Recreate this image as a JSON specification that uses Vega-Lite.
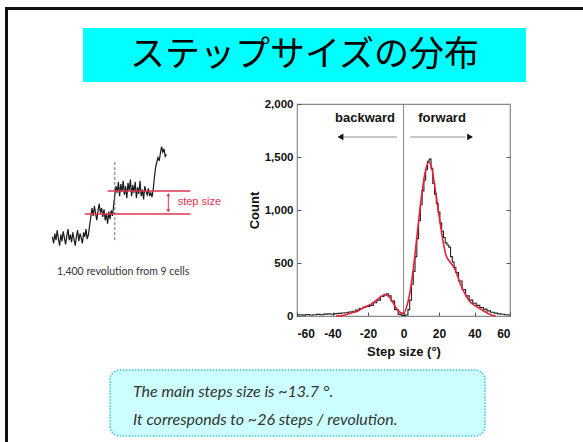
{
  "$schema": "https://vega.github.io/schema/vega-lite/v6.json",
  "width": 213,
  "height": 212,
  "autosize": {"type": "none"},
  "padding": {"left": 297, "top": 104, "right": 73, "bottom": 126},
  "background": "white",
  "config": {"view": {"stroke": "#8a8a8a", "strokeWidth": 1.2}, "font": "Liberation Sans"},
  "resolve": {"scale": {"x": "independent", "y": "independent", "shape": "independent"}},
  "layer": [
    {
      "data": {"values": [{"part": "slide"}]},
      "mark": {"type": "rect", "fill": "white", "fillOpacity": 0, "stroke": "#111111", "strokeWidth": 3},
      "encoding": {
        "x": {"datum": 0, "type": "quantitative", "scale": {"domain": [0, 1], "range": [-290.5, 310]}, "axis": null},
        "x2": {"datum": 1},
        "y": {"datum": 0, "type": "quantitative", "scale": {"domain": [0, 1], "range": [-95.5, 360]}, "axis": null},
        "y2": {"datum": 1}
      }
    },
    {
      "data": {"values": [{"title": "ステップサイズの分布"}]},
      "layer": [
        {
          "mark": {"type": "rect", "fill": "#00ffff"},
          "encoding": {
            "x": {"datum": 0, "type": "quantitative", "scale": {"domain": [0, 1], "range": [-214, 229]}, "axis": null},
            "x2": {"datum": 1},
            "y": {"datum": 0, "type": "quantitative", "scale": {"domain": [0, 1], "range": [-76, -22]}, "axis": null},
            "y2": {"datum": 1}
          }
        },
        {
          "mark": {"type": "text", "font": "Noto Sans CJK JP", "fontSize": 35, "color": "#000000", "align": "center", "baseline": "middle"},
          "encoding": {
            "x": {"datum": 0.5, "type": "quantitative", "scale": {"domain": [0, 1], "range": [-214, 229]}, "axis": null},
            "y": {"datum": 0.5, "type": "quantitative", "scale": {"domain": [0, 1], "range": [-76, -22]}, "axis": null},
            "text": {"field": "title"}
          }
        }
      ]
    },
    {
      "encoding": {
        "x": {"field": "t", "type": "quantitative", "scale": {"domain": [0, 100], "range": [-247, -127], "zero": false, "nice": false}, "axis": null},
        "y": {"field": "pos", "type": "quantitative", "scale": {"domain": [0, 100], "range": [146, 36], "zero": false, "nice": false}, "axis": null}
      },
      "layer": [
        {
          "data": {"values": [
            {"t": 2, "pos": 12}, {"t": 3, "pos": 6}, {"t": 4, "pos": 15}, {"t": 5, "pos": 9}, {"t": 6, "pos": 18},
            {"t": 7, "pos": 10}, {"t": 8, "pos": 4}, {"t": 9, "pos": 14}, {"t": 10, "pos": 8}, {"t": 11, "pos": 17},
            {"t": 12, "pos": 11}, {"t": 13, "pos": 5}, {"t": 14, "pos": 13}, {"t": 15, "pos": 19}, {"t": 16, "pos": 9},
            {"t": 17, "pos": 14}, {"t": 18, "pos": 7}, {"t": 19, "pos": 16}, {"t": 20, "pos": 10}, {"t": 21, "pos": 4},
            {"t": 22, "pos": 12}, {"t": 23, "pos": 18}, {"t": 24, "pos": 8}, {"t": 25, "pos": 15}, {"t": 26, "pos": 11},
            {"t": 27, "pos": 6}, {"t": 28, "pos": 16}, {"t": 29, "pos": 12}, {"t": 30, "pos": 19}, {"t": 31, "pos": 10},
            {"t": 32, "pos": 14}, {"t": 33, "pos": 22}, {"t": 34, "pos": 30}, {"t": 35, "pos": 38}, {"t": 36, "pos": 31},
            {"t": 37, "pos": 40}, {"t": 38, "pos": 33}, {"t": 39, "pos": 27}, {"t": 40, "pos": 36}, {"t": 41, "pos": 42},
            {"t": 42, "pos": 34}, {"t": 43, "pos": 38}, {"t": 44, "pos": 30}, {"t": 45, "pos": 37}, {"t": 46, "pos": 27},
            {"t": 47, "pos": 33}, {"t": 48, "pos": 24}, {"t": 49, "pos": 35}, {"t": 50, "pos": 28}, {"t": 51, "pos": 36},
            {"t": 52, "pos": 31}, {"t": 53, "pos": 40}, {"t": 54, "pos": 50}, {"t": 55, "pos": 58}, {"t": 56, "pos": 52},
            {"t": 57, "pos": 62}, {"t": 58, "pos": 49}, {"t": 59, "pos": 60}, {"t": 60, "pos": 53}, {"t": 61, "pos": 63},
            {"t": 62, "pos": 50}, {"t": 63, "pos": 58}, {"t": 64, "pos": 47}, {"t": 65, "pos": 61}, {"t": 66, "pos": 54},
            {"t": 67, "pos": 64}, {"t": 68, "pos": 49}, {"t": 69, "pos": 59}, {"t": 70, "pos": 52}, {"t": 71, "pos": 62},
            {"t": 72, "pos": 47}, {"t": 73, "pos": 57}, {"t": 74, "pos": 51}, {"t": 75, "pos": 63}, {"t": 76, "pos": 49},
            {"t": 77, "pos": 55}, {"t": 78, "pos": 46}, {"t": 79, "pos": 58}, {"t": 80, "pos": 53}, {"t": 81, "pos": 50},
            {"t": 82, "pos": 56}, {"t": 83, "pos": 49}, {"t": 84, "pos": 52}, {"t": 85, "pos": 48}, {"t": 86, "pos": 55},
            {"t": 87, "pos": 66}, {"t": 88, "pos": 75}, {"t": 89, "pos": 80}, {"t": 90, "pos": 84}, {"t": 91, "pos": 81},
            {"t": 92, "pos": 88}, {"t": 93, "pos": 94}, {"t": 94, "pos": 89}, {"t": 95, "pos": 92}, {"t": 96, "pos": 85},
            {"t": 97, "pos": 87}
          ]},
          "mark": {"type": "line", "color": "#1a1a1a", "strokeWidth": 1.2}
        },
        {
          "data": {"values": [{"t": 48, "t2": 117, "pos": 53.6}, {"t": 29, "t2": 117, "pos": 32.7}]},
          "mark": {"type": "rule", "color": "#e3334f", "strokeWidth": 1.5},
          "encoding": {"x2": {"field": "t2"}}
        },
        {
          "data": {"values": [{"t": 54, "pos": 9, "pos2": 80}]},
          "mark": {"type": "rule", "color": "#5a6a9a", "strokeDash": [3, 2], "strokeWidth": 1},
          "encoding": {"y2": {"field": "pos2"}}
        },
        {
          "data": {"values": [{"t": 98.6, "pos": 35.5, "pos2": 50.5}]},
          "mark": {"type": "rule", "color": "#e3334f", "strokeWidth": 1},
          "encoding": {"y2": {"field": "pos2"}}
        },
        {
          "data": {"values": [{"t": 98.6, "pos": 50.3}]},
          "mark": {"type": "point", "shape": "triangle-up", "filled": true, "color": "#e3334f", "size": 14, "opacity": 1}
        },
        {
          "data": {"values": [{"t": 98.6, "pos": 35.7}]},
          "mark": {"type": "point", "shape": "triangle-down", "filled": true, "color": "#e3334f", "size": 14, "opacity": 1}
        },
        {
          "data": {"values": [{"t": 106.4, "pos": 43.9, "label": "step size"}]},
          "mark": {"type": "text", "align": "left", "baseline": "middle", "font": "Liberation Sans", "fontSize": 11, "color": "#e3334f"},
          "encoding": {"text": {"field": "label"}}
        },
        {
          "data": {"values": [{"t": 5.8, "pos": -20, "label": "1,400 revolution from 9 cells"}]},
          "mark": {"type": "text", "align": "left", "baseline": "middle", "font": "Lato", "fontSize": 10.5, "color": "#333333"},
          "encoding": {"text": {"field": "label"}}
        }
      ]
    },
    {
      "data": {"values": [{"part": "note"}]},
      "mark": {"type": "rect", "fill": "#ccffff", "stroke": "#3cc8d0", "strokeWidth": 1.5, "strokeDash": [1.5, 1.5], "cornerRadius": 10},
      "encoding": {
        "x": {"datum": 0, "type": "quantitative", "scale": {"domain": [0, 1], "range": [-187, 188]}, "axis": null},
        "x2": {"datum": 1},
        "y": {"datum": 0, "type": "quantitative", "scale": {"domain": [0, 1], "range": [266, 332]}, "axis": null},
        "y2": {"datum": 1}
      }
    },
    {
      "data": {"values": [
        {"line": 1, "text": "The main steps size is ~13.7 °."},
        {"line": 2, "text": "It corresponds to ~26 steps / revolution."}
      ]},
      "mark": {"type": "text", "align": "left", "baseline": "middle", "font": "Lato", "fontStyle": "italic", "fontSize": 16, "color": "#333333", "dx": 23},
      "encoding": {
        "x": {"datum": 0, "type": "quantitative", "scale": {"domain": [0, 1], "range": [-187, 188]}, "axis": null},
        "y": {"field": "line", "type": "quantitative", "scale": {"domain": [1, 2], "range": [288, 316]}, "axis": null},
        "text": {"field": "text"}
      }
    },
    {
      "data": {"values": [{"x": 0, "count": 0, "count2": 2000}]},
      "mark": {"type": "rule", "color": "#8a8a8a", "strokeWidth": 1},
      "encoding": {
        "x": {"field": "x", "type": "quantitative", "scale": {"domain": [-60, 60], "nice": false, "zero": false}, "axis": null},
        "y": {"field": "count", "type": "quantitative", "scale": {"domain": [0, 2000], "nice": false},
          "axis": {"orient": "right", "values": [500, 1000, 1500], "labels": false, "title": null, "tickSize": -4, "tickColor": "#555555", "domain": false, "grid": false}},
        "y2": {"field": "count2"}
      }
    },
    {
      "encoding": {
        "x": {"field": "x", "type": "quantitative", "scale": {"domain": [-60, 60], "nice": false, "zero": false},
          "axis": {"values": [-60, -40, -20, 0, 20, 40, 60], "labelExpr": "datum.value < 0 ? '-' + abs(datum.value) : '' + datum.value",
            "title": "Step size (°)", "titleFont": "Liberation Sans", "titleFontWeight": "bold", "titleFontSize": 13, "titleColor": "#111111", "titlePadding": 6,
            "labelFont": "Liberation Sans", "labelFontWeight": "bold", "labelFontSize": 12, "labelColor": "#111111", "labelPadding": 16,
            "tickSize": -4, "tickColor": "#555555", "domain": false, "grid": false}},
        "y": {"field": "count", "type": "quantitative", "scale": {"domain": [0, 2000], "nice": false},
          "axis": {"values": [0, 500, 1000, 1500, 2000], "format": ",.0f", "orient": "left",
            "title": "Count", "titleFont": "Liberation Sans", "titleFontWeight": "bold", "titleFontSize": 13, "titleColor": "#111111", "titlePadding": 3,
            "labelFont": "Liberation Sans", "labelFontWeight": "bold", "labelFontSize": 11.5, "labelColor": "#111111", "labelPadding": 8,
            "tickSize": -4, "tickColor": "#555555", "domain": false, "grid": false}}
      },
      "layer": [
        {
          "data": {"values": [
            {"x": -60, "count": 10}, {"x": -58, "count": 12}, {"x": -56, "count": 8}, {"x": -54, "count": 14},
            {"x": -52, "count": 10}, {"x": -50, "count": 12}, {"x": -48, "count": 15}, {"x": -46, "count": 12},
            {"x": -44, "count": 18}, {"x": -42, "count": 20}, {"x": -40, "count": 16}, {"x": -38, "count": 22},
            {"x": -36, "count": 25}, {"x": -34, "count": 28}, {"x": -32, "count": 30}, {"x": -30, "count": 38},
            {"x": -28, "count": 45}, {"x": -26, "count": 55}, {"x": -24, "count": 70}, {"x": -22, "count": 82},
            {"x": -20, "count": 90}, {"x": -18, "count": 100}, {"x": -16, "count": 125}, {"x": -14, "count": 150},
            {"x": -12, "count": 185}, {"x": -10, "count": 205}, {"x": -9, "count": 210}, {"x": -8, "count": 190},
            {"x": -6, "count": 140}, {"x": -4, "count": 60}, {"x": -2, "count": 15}, {"x": 0, "count": 5},
            {"x": 2, "count": 10}, {"x": 3, "count": 60}, {"x": 4, "count": 150}, {"x": 5, "count": 300},
            {"x": 6, "count": 420}, {"x": 7, "count": 560}, {"x": 8, "count": 730}, {"x": 9, "count": 900},
            {"x": 10, "count": 1050}, {"x": 11, "count": 1180}, {"x": 12, "count": 1280}, {"x": 13, "count": 1380},
            {"x": 14, "count": 1460}, {"x": 15, "count": 1480}, {"x": 16, "count": 1390}, {"x": 17, "count": 1250},
            {"x": 18, "count": 1150}, {"x": 19, "count": 1060}, {"x": 20, "count": 980}, {"x": 21, "count": 880},
            {"x": 22, "count": 800}, {"x": 23, "count": 740}, {"x": 24, "count": 690}, {"x": 25, "count": 670},
            {"x": 26, "count": 650}, {"x": 27, "count": 560}, {"x": 28, "count": 510}, {"x": 29, "count": 460},
            {"x": 30, "count": 410}, {"x": 32, "count": 330}, {"x": 34, "count": 250}, {"x": 36, "count": 190},
            {"x": 38, "count": 150}, {"x": 40, "count": 120}, {"x": 42, "count": 100}, {"x": 44, "count": 80},
            {"x": 46, "count": 65}, {"x": 48, "count": 48}, {"x": 50, "count": 35}, {"x": 52, "count": 27},
            {"x": 54, "count": 20}, {"x": 56, "count": 16}, {"x": 58, "count": 12}, {"x": 60, "count": 10}
          ]},
          "mark": {"type": "line", "interpolate": "step", "color": "#222222", "strokeWidth": 1.1}
        },
        {
          "data": {"values": [
            {"x": -38, "count": 0}, {"x": -36, "count": 2}, {"x": -32, "count": 15}, {"x": -28, "count": 35},
            {"x": -26, "count": 45}, {"x": -24, "count": 65}, {"x": -22, "count": 85}, {"x": -20, "count": 98},
            {"x": -18, "count": 115}, {"x": -16, "count": 140}, {"x": -14, "count": 165}, {"x": -12, "count": 190},
            {"x": -10, "count": 198}, {"x": -8, "count": 180}, {"x": -6, "count": 130}, {"x": -4, "count": 70},
            {"x": -2, "count": 35}, {"x": 0, "count": 25}, {"x": 2, "count": 100}, {"x": 4, "count": 260},
            {"x": 6, "count": 510}, {"x": 8, "count": 820}, {"x": 10, "count": 1110}, {"x": 12, "count": 1340},
            {"x": 14, "count": 1450}, {"x": 15, "count": 1440}, {"x": 16, "count": 1390}, {"x": 18, "count": 1180},
            {"x": 20, "count": 950}, {"x": 22, "count": 730}, {"x": 24, "count": 570}, {"x": 26, "count": 515},
            {"x": 28, "count": 470}, {"x": 30, "count": 400}, {"x": 32, "count": 305}, {"x": 34, "count": 230},
            {"x": 36, "count": 170}, {"x": 38, "count": 125}, {"x": 40, "count": 100}, {"x": 42, "count": 80},
            {"x": 44, "count": 60}, {"x": 46, "count": 40}, {"x": 48, "count": 20}, {"x": 50, "count": 8},
            {"x": 52, "count": 0}
          ]},
          "mark": {"type": "line", "interpolate": "monotone", "color": "#e8203a", "strokeWidth": 1.6}
        },
        {
          "data": {"values": [{"x": -3.7, "x2": -34, "count": 1689}, {"x": 3.7, "x2": 35, "count": 1689}]},
          "mark": {"type": "rule", "color": "#c8c8c8", "strokeWidth": 2},
          "encoding": {"x2": {"field": "x2"}}
        },
        {
          "data": {"values": [{"x": -35.5, "count": 1689}]},
          "mark": {"type": "point", "shape": "triangle-left", "filled": true, "color": "#111111", "size": 45, "opacity": 1}
        },
        {
          "data": {"values": [{"x": 37.5, "count": 1689}]},
          "mark": {"type": "point", "shape": "triangle-right", "filled": true, "color": "#111111", "size": 45, "opacity": 1}
        },
        {
          "data": {"values": [{"x": -21.7, "count": 1868, "label": "backward"}, {"x": 21.7, "count": 1868, "label": "forward"}]},
          "mark": {"type": "text", "align": "center", "baseline": "middle", "font": "Liberation Sans", "fontWeight": "bold", "fontSize": 13, "color": "#111111"},
          "encoding": {"text": {"field": "label"}}
        }
      ]
    }
  ]
}
